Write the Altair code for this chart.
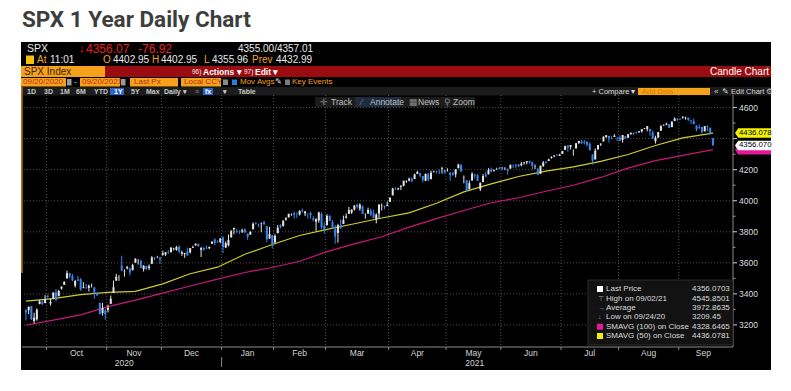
import altair as alt
import pandas as pd

# ---------------- data ----------------
HOLIDAYS = ["2020-11-26", "2020-12-25", "2021-01-01", "2021-01-18", "2021-02-15",
            "2021-04-02", "2021-05-31", "2021-07-05", "2021-09-06"]

OPEN = [3295, 3295, 3320, 3226, 3236, 3334, 3350, 3341,
        3385, 3338, 3368, 3409, 3385, 3434, 3459, 3501, 3534, 3515, 3453, 3494, 3494, 3439, 3440, 3438, 3465, 3442, 3404, 3343, 3277, 3293,
        3296, 3336, 3406, 3485, 3508, 3584, 3544, 3564, 3563, 3552, 3601, 3610, 3612, 3559, 3579, 3567, 3594, 3635, 3638, 3635,
        3653, 3653, 3669, 3670, 3689, 3683, 3705, 3659, 3656, 3675, 3667, 3696, 3713, 3722, 3684, 3698, 3693, 3694, 3723, 3751, 3736, 3734,
        3764, 3699, 3713, 3764, 3816, 3803, 3802, 3802, 3815, 3788, 3782, 3816, 3858, 3845, 3852, 3863, 3837, 3756, 3779,
        3732, 3791, 3840, 3837, 3878, 3893, 3911, 3920, 3917, 3911, 3939, 3918, 3916, 3921, 3886, 3865, 3873, 3915, 3839,
        3842, 3903, 3863, 3818, 3793, 3844, 3851, 3891, 3916, 3924, 3943, 3974, 3949, 3963, 3913, 3917, 3937, 3920, 3879, 3917, 3969, 3964, 3967,
        3993, 4035, 4075, 4074, 4090, 4096, 4125, 4130, 4141, 4140, 4174, 4177, 4159, 4128, 4171, 4139, 4185, 4188, 4186, 4206, 4199,
        4192, 4180, 4178, 4170, 4210, 4229, 4150, 4131, 4074, 4130, 4170, 4165, 4074, 4121, 4168, 4170, 4202, 4191, 4201, 4210,
        4217, 4207, 4206, 4207, 4229, 4234, 4232, 4229, 4242, 4248, 4256, 4249, 4220, 4205, 4173, 4224, 4249, 4256, 4275, 4285, 4293, 4291,
        4301, 4327, 4356, 4347, 4321, 4337, 4372, 4382, 4381, 4380, 4368, 4297, 4266, 4331, 4362, 4382, 4410, 4417, 4403, 4411, 4396,
        4407, 4392, 4415, 4406, 4430, 4437, 4442, 4442, 4447, 4465, 4462, 4462, 4440, 4383, 4407, 4451, 4484, 4490, 4493, 4474, 4513, 4529,
        4528, 4534, 4532, 4535, 4518, 4514, 4484, 4474, 4475, 4447, 4478, 4470, 4403]

HIGH = [3301, 3320, 3323, 3279, 3307, 3361, 3358, 3393,
        3397, 3370, 3409, 3432, 3426, 3447, 3482, 3550, 3534, 3528, 3489, 3515, 3502, 3476, 3465, 3460, 3466, 3443, 3410, 3343, 3342, 3305,
        3331, 3389, 3486, 3529, 3521, 3646, 3558, 3581, 3569, 3593, 3629, 3624, 3620, 3585, 3582, 3590, 3643, 3636, 3645, 3635,
        3679, 3670, 3683, 3699, 3697, 3709, 3712, 3678, 3665, 3698, 3695, 3711, 3726, 3725, 3702, 3698, 3712, 3703, 3740, 3757, 3744, 3761,
        3770, 3738, 3783, 3811, 3826, 3818, 3811, 3820, 3823, 3788, 3804, 3860, 3861, 3853, 3860, 3871, 3837, 3831, 3779,
        3784, 3843, 3848, 3873, 3895, 3916, 3918, 3931, 3925, 3938, 3950, 3933, 3916, 3931, 3902, 3888, 3929, 3925, 3862,
        3914, 3906, 3875, 3844, 3851, 3881, 3904, 3918, 3960, 3944, 3971, 3981, 3984, 3970, 3919, 3956, 3949, 3942, 3919, 3978, 3982, 3969, 3994,
        4021, 4084, 4087, 4083, 4099, 4129, 4131, 4149, 4151, 4174, 4192, 4180, 4160, 4175, 4180, 4194, 4194, 4193, 4202, 4219, 4199,
        4209, 4187, 4187, 4202, 4238, 4237, 4163, 4134, 4131, 4184, 4171, 4170, 4117, 4173, 4188, 4210, 4214, 4202, 4213, 4218,
        4219, 4216, 4206, 4234, 4233, 4236, 4237, 4249, 4249, 4255, 4257, 4251, 4233, 4212, 4226, 4256, 4256, 4271, 4286, 4293, 4301, 4302,
        4321, 4355, 4357, 4358, 4330, 4372, 4386, 4393, 4393, 4383, 4376, 4299, 4337, 4359, 4370, 4415, 4422, 4418, 4416, 4429, 4412,
        4422, 4423, 4416, 4429, 4440, 4440, 4446, 4449, 4461, 4468, 4480, 4462, 4454, 4419, 4444, 4489, 4492, 4502, 4494, 4513, 4537, 4532,
        4531, 4546, 4541, 4535, 4521, 4530, 4486, 4492, 4476, 4481, 4486, 4471, 4403]

LOW = [3229, 3270, 3232, 3209, 3228, 3334, 3327, 3340,
       3361, 3324, 3367, 3354, 3385, 3428, 3459, 3496, 3501, 3480, 3441, 3483, 3420, 3436, 3433, 3415, 3441, 3369, 3387, 3268, 3260, 3233,
       3280, 3336, 3406, 3485, 3484, 3547, 3511, 3558, 3518, 3552, 3601, 3589, 3567, 3544, 3556, 3553, 3594, 3618, 3630, 3594,
       3645, 3645, 3657, 3665, 3679, 3678, 3660, 3645, 3633, 3646, 3660, 3696, 3710, 3702, 3637, 3676, 3690, 3689, 3723, 3715, 3730, 3725,
       3663, 3695, 3706, 3764, 3784, 3792, 3786, 3792, 3792, 3749, 3780, 3816, 3846, 3830, 3797, 3842, 3732, 3756, 3694,
       3726, 3791, 3822, 3834, 3871, 3892, 3903, 3885, 3890, 3905, 3923, 3901, 3885, 3884, 3867, 3805, 3859, 3817, 3789,
       3842, 3868, 3818, 3723, 3730, 3820, 3851, 3885, 3916, 3915, 3937, 3950, 3935, 3914, 3885, 3917, 3901, 3889, 3854, 3886, 3937, 3944, 3966,
       3993, 4034, 4069, 4068, 4069, 4093, 4114, 4124, 4120, 4140, 4171, 4151, 4118, 4126, 4124, 4138, 4181, 4176, 4172, 4175, 4175,
       4188, 4128, 4160, 4150, 4208, 4188, 4112, 4057, 4074, 4130, 4143, 4126, 4062, 4119, 4151, 4170, 4182, 4188, 4197, 4203,
       4197, 4198, 4168, 4207, 4211, 4208, 4219, 4221, 4233, 4234, 4238, 4202, 4204, 4165, 4173, 4218, 4241, 4256, 4271, 4280, 4287, 4287,
       4301, 4327, 4315, 4330, 4290, 4337, 4365, 4368, 4362, 4348, 4322, 4233, 4266, 4329, 4352, 4382, 4406, 4375, 4396, 4411, 4385,
       4384, 4373, 4398, 4405, 4424, 4422, 4431, 4436, 4439, 4461, 4447, 4418, 4397, 4368, 4406, 4451, 4482, 4486, 4469, 4474, 4513, 4515,
       4522, 4527, 4522, 4513, 4494, 4493, 4447, 4462, 4430, 4447, 4447, 4427, 4356]

CLOSE = [3281, 3316, 3237, 3247, 3298, 3352, 3335, 3363,
         3381, 3348, 3409, 3361, 3419, 3447, 3477, 3534, 3512, 3489, 3483, 3484, 3427, 3443, 3436, 3453, 3465, 3401, 3391, 3271, 3310, 3270,
         3310, 3369, 3443, 3510, 3509, 3550, 3546, 3573, 3537, 3585, 3627, 3610, 3568, 3582, 3558, 3578, 3635, 3630, 3638, 3622,
         3662, 3669, 3667, 3699, 3692, 3702, 3673, 3668, 3663, 3647, 3695, 3701, 3722, 3709, 3695, 3687, 3690, 3703, 3735, 3727, 3732, 3756,
         3701, 3727, 3748, 3804, 3825, 3800, 3801, 3810, 3796, 3768, 3799, 3852, 3853, 3841, 3855, 3850, 3751, 3787, 3714,
         3774, 3826, 3830, 3872, 3887, 3916, 3911, 3910, 3916, 3935, 3933, 3931, 3914, 3907, 3877, 3881, 3925, 3829, 3811,
         3902, 3870, 3820, 3768, 3842, 3821, 3875, 3899, 3939, 3943, 3969, 3963, 3974, 3915, 3913, 3941, 3911, 3889, 3910, 3975, 3971, 3959, 3973,
         4020, 4078, 4074, 4080, 4097, 4129, 4128, 4142, 4125, 4170, 4185, 4163, 4135, 4173, 4135, 4180, 4188, 4187, 4183, 4211, 4181,
         4193, 4165, 4168, 4202, 4233, 4188, 4152, 4063, 4113, 4174, 4163, 4128, 4116, 4159, 4156, 4197, 4188, 4196, 4201, 4204,
         4202, 4208, 4193, 4230, 4227, 4227, 4220, 4239, 4247, 4255, 4247, 4224, 4222, 4166, 4225, 4246, 4242, 4266, 4281, 4291, 4292, 4298,
         4320, 4352, 4344, 4358, 4321, 4370, 4385, 4369, 4374, 4360, 4327, 4258, 4323, 4359, 4367, 4412, 4422, 4401, 4401, 4419, 4395,
         4387, 4423, 4403, 4429, 4437, 4432, 4437, 4448, 4461, 4468, 4480, 4448, 4400, 4406, 4442, 4480, 4486, 4496, 4470, 4509, 4529, 4523,
         4524, 4537, 4535, 4520, 4514, 4493, 4459, 4469, 4443, 4481, 4474, 4433, 4356]

MA_IDX = [0, 10, 20, 30, 40, 50, 60, 70, 80, 90, 100, 110, 120, 130, 140, 150, 160, 170, 180, 190, 200, 210, 220, 230, 240, 251]
MA50 = [3353, 3369, 3395, 3410, 3416, 3465, 3530, 3572, 3655, 3718, 3776, 3816, 3852, 3889, 3922, 3984, 4057, 4109, 4156, 4191, 4218, 4254, 4298, 4356, 4405, 4436]
MA100 = [3198, 3231, 3265, 3318, 3360, 3405, 3451, 3495, 3538, 3570, 3610, 3672, 3722, 3768, 3830, 3885, 3937, 3987, 4019, 4061, 4100, 4150, 4210, 4258, 4292, 4329]

Y_TICKS = [3200, 3400, 3600, 3800, 4000, 4200, 4400, 4600]
Y_LABELS = [3200, 3400, 3600, 3800, 4000, 4200, 4600]   # 4400 sits under the price tags
Y_MINOR = [3300, 3500, 3700, 3900, 4100, 4300, 4500]

TAG_VALUES = [4328.6465, 4356.0703, 4436.0781]
TAG_LABELS = ["", "4356.070", "4436.078"]

LEG_LABELS = ["Last Price", "High on 09/02/21", "Average", "Low on 09/24/20",
              "SMAVG (100)  on Close", "SMAVG (50)  on Close"]
LEG_VALUES = ["4356.0703", "4545.8501", "3972.8635", "3209.45", "4328.6465", "4436.0781"]

# ---------------- styling ----------------
UI = "Liberation Sans, Arial, sans-serif"
UP, DOWN = "#e4e4e4", "#3a86ec"
YEL_LINE, MAG_LINE = "#cdcd2a", "#c8187a"
YEL, MAG = "#f2f200", "#e6189a"
ORANGE = "#f5a11c"
AXC = "#8a8a8a"
OX, OY = 22, 95          # page position of plot origin
W, H = 711, 252
XDOM = [0.4, 256.5]
xs = alt.Scale(domain=XDOM, nice=False, zero=False)
ys = alt.Scale(domain=[3058, 4681], nice=False, zero=False)

dates = pd.bdate_range("2020-09-21", "2021-09-20")
dates = dates[~dates.isin(pd.to_datetime(HOLIDAYS))]

df = pd.DataFrame({"i": range(len(CLOSE)), "o": OPEN, "h": HIGH, "l": LOW, "c": CLOSE})
df["dir"] = ["up" if c >= o else "down" for o, c in zip(df.o, df.c)]

bounds = [k - 0.5 for k in range(1, len(dates)) if dates[k].month != dates[k - 1].month]
mnames = [dates[k].strftime("%b") for k in range(1, len(dates)) if dates[k].month != dates[k - 1].month]
edges = bounds + [XDOM[1]]
months = pd.DataFrame({"m": mnames, "ctr": [(edges[j] + edges[j + 1]) / 2 for j in range(len(mnames))]})
jan = bounds[mnames.index("Jan")]
years = pd.DataFrame({"yr": ["2020", "2021"], "ctr": [(XDOM[0] + jan) / 2, (jan + XDOM[1]) / 2]})

ma = pd.DataFrame({"i": MA_IDX, "m50": MA50, "m100": MA100})
one = pd.DataFrame({"k": [0]})

# ---------------- decoration (page coordinates) ----------------
rects, texts = [], []


def R(x1, y1, x2, y2, fill):
    rects.append({"x": x1 - OX, "x2": x2 - OX, "y": y1 - OY, "y2": y2 - OY, "f": fill})


def T(x, y, s, color, size, weight="normal", align="left"):
    texts.append({"x": x - OX, "y": y - OY, "t": s, "c": color, "s": size, "w": weight, "a": align})


R(21, 42, 771, 370, "#000000")
R(21, 66, 771, 77, "#9b0c10")
R(21, 66, 105, 77, ORANGE)
R(21, 78, 66, 86.5, ORANGE); R(67, 79, 71.5, 85.5, "#9a9a9a")
R(80, 78, 120, 86.5, ORANGE); R(121, 79, 125.5, 85.5, "#9a9a9a")
R(130, 78, 178, 86.5, ORANGE)
R(181, 78, 221, 86.5, ORANGE)
R(223, 79.5, 228, 85, "#8a8a8a")
R(232, 79.5, 237, 85, "#2d7be0")
R(285, 79.5, 290, 85, "#7a7a7a")
R(21, 87, 771, 95.5, "#1c1c1c")
R(110, 88, 124, 95, "#2a64c8")
R(203, 88, 213, 95, "#2a64c8")
R(638, 88, 710, 95, ORANGE)
R(315, 97, 475, 107, "#1b1b1b")
R(355, 97, 401, 107, "#1d2c40")
R(21, 87, 22.8, 273, "#a8651e")
R(26, 55.5, 34, 64, "#f4c20d")

T(27, 48.5, "SPX", "#e8e8e8", 10.5)
T(79, 48.5, "↓", "#e8201c", 11)
T(86, 48.5, "4356.07", "#e8201c", 12)
T(138, 48.5, "-76.92", "#e8201c", 12)
T(238, 48.5, "4355.00/4357.01", "#e8e8e8", 10)
for x, s, col in [(37, "At", ORANGE), (50, "11:01", "#e8e8e8"), (103, "O", ORANGE), (113, "4402.95", "#e8e8e8"),
                  (152, "H", ORANGE), (161, "4402.95", "#e8e8e8"), (204, "L", ORANGE), (212, "4355.96", "#e8e8e8"),
                  (252, "Prev", ORANGE), (276, "4432.99", "#e8e8e8")]:
    T(x, 60, s, col, 10)
T(24, 71.5, "SPX Index", "#3a2300", 10)
T(192, 71.5, "96)", "#f0f0f0", 6.5)
T(203, 71.5, "Actions ▾", "#ffffff", 8.5, "bold")
T(244, 71.5, "97)", "#f0f0f0", 6.5)
T(255, 71.5, "Edit ▾", "#ffffff", 8.5, "bold")
T(769, 71.5, "Candle Chart", "#ffffff", 10, align="right")
for x, s, col in [(23, "09/20/2020", "#b8301a"), (74, "-", "#e0e0e0"), (82, "09/20/2021", "#b8301a"),
                  (134, "Last Px", "#b8301a"), (184, "Local CCY", "#b8301a")]:
    T(x, 82.2, s, col, 8)
T(240, 82.2, "Mov Avgs", ORANGE, 8)
T(275, 82.2, "✎", "#e0e0e0", 7.5)
T(292, 82.2, "Key Events", ORANGE, 8)
for x, s in [(27, "1D"), (44, "3D"), (60, "1M"), (76, "6M"), (94, "YTD"), (131, "5Y"), (146, "Max"),
             (164, "Daily ▾"), (223, "▾"), (238, "Table")]:
    T(x, 91.5, s, "#c8c8c8", 7, "bold")
T(114, 91.5, "1Y", "#ffffff", 7, "bold")
T(195, 91.5, "≡", "#8a8a8a", 7, "bold")
T(205, 91.5, "fx", "#ffffff", 7, "bold")
T(592, 91.5, "+ Compare ▾", "#d8d8d8", 7.5)
T(642, 91.5, "Add Data", "#e07b00", 7.5)
T(714, 91.5, "«", "#c8c8c8", 8)
T(722, 91.5, "✎ Edit Chart", "#d8d8d8", 7.5)
T(766, 91.5, "⚙", "#c8c8c8", 7.5)
for x, s, col in [(320, "✛", "#888888"), (331, "Track", "#c0c0c0"), (361, "⁄", "#888888"), (370, "Annotate", "#c0c0c0"),
                  (409, "▦", "#888888"), (418, "News", "#c0c0c0"), (444, "⚲", "#888888"), (453, "Zoom", "#c0c0c0")]:
    T(x, 102, s, col, 8.5)

# legend box
LEG_Y = [289, 298.5, 308, 317.3, 326.7, 336]
for yy, lab, val in zip(LEG_Y, LEG_LABELS, LEG_VALUES):
    T(606, yy, lab, "#dcdcdc", 8)
    T(692, yy, val, "#dcdcdc", 8)
for yy, s in [(LEG_Y[1], "⊤"), (LEG_Y[2], "→"), (LEG_Y[3], "↓")]:
    T(598, yy, s, "#9a9a9a", 7)
sq = [(LEG_Y[0], "#ffffff"), (LEG_Y[4], MAG), (LEG_Y[5], YEL)]

rdf = pd.DataFrame(rects)
tdf = pd.DataFrame(texts)

layers = []
layers.append(alt.Chart(rdf).mark_rect().encode(
    x=alt.X("x:Q", scale=None, axis=None), x2="x2:Q",
    y=alt.Y("y:Q", scale=None, axis=None), y2="y2:Q",
    color=alt.Color("f:N", scale=None)))

layers.append(alt.Chart(one).mark_text(
    font="Roboto, sans-serif", fontSize=22.5,
    fontWeight="bold", align="left", baseline="alphabetic", color="#3d3d3d").encode(
    x=alt.value(0), y=alt.value(27 - OY), text=alt.value("SPX 1 Year Daily Chart")))

# grid lines
layers.append(alt.Chart(pd.DataFrame({"v": Y_TICKS})).mark_rule(
    color="#505050", strokeDash=[1, 2], strokeWidth=1).encode(y=alt.Y("v:Q", scale=ys, axis=None)))
layers.append(alt.Chart(pd.DataFrame({"b": bounds})).mark_rule(
    color="#505050", strokeDash=[1, 2], strokeWidth=1).encode(x=alt.X("b:Q", scale=xs, axis=None)))

# moving averages
layers.append(alt.Chart(ma).mark_line(color=MAG_LINE, strokeWidth=1.2, clip=True).encode(
    x=alt.X("i:Q", scale=xs, axis=None), y=alt.Y("m100:Q", scale=ys, axis=None)))
layers.append(alt.Chart(ma).mark_line(color=YEL_LINE, strokeWidth=1.2, clip=True).encode(
    x=alt.X("i:Q", scale=xs, axis=None), y=alt.Y("m50:Q", scale=ys, axis=None)))

# candles
ccol = alt.Color("dir:N", scale=alt.Scale(domain=["up", "down"], range=[UP, DOWN]), legend=None)
layers.append(alt.Chart(df).mark_rule(strokeWidth=1, clip=True).encode(
    x=alt.X("i:Q", scale=xs, axis=None), y=alt.Y("l:Q", scale=ys, axis=None), y2="h:Q", color=ccol))
layers.append(alt.Chart(df).mark_bar(size=2, clip=True).encode(
    x=alt.X("i:Q", scale=xs, axis=None), y=alt.Y("o:Q", scale=ys, axis=None), y2="c:Q", color=ccol))

# price axis (right): domain, ticks, minor ticks, labels
layers.append(alt.Chart(one).mark_rule(color=AXC).encode(
    x=alt.value(W), y=alt.value(0), y2=alt.value(H)))
layers.append(alt.Chart(pd.DataFrame({"v": Y_TICKS})).mark_rule(color="#d0d0d0").encode(
    y=alt.Y("v:Q", scale=ys, axis=None), x=alt.value(W), x2=alt.value(W + 4)))
layers.append(alt.Chart(pd.DataFrame({"v": Y_MINOR})).mark_rule(color="#9a9a9a").encode(
    y=alt.Y("v:Q", scale=ys, axis=None), x=alt.value(W), x2=alt.value(W + 2.5)))
layers.append(alt.Chart(pd.DataFrame({"v": Y_LABELS})).mark_text(
    font=UI, fontSize=8.5, color="#dedede", align="left", baseline="middle").encode(
    y=alt.Y("v:Q", scale=ys, axis=None), x=alt.value(W + 6), text="v:N"))

# time axis (bottom): domain, ticks, month / year labels
layers.append(alt.Chart(one).mark_rule(color=AXC).encode(
    x=alt.value(0), x2=alt.value(W), y=alt.value(H)))
layers.append(alt.Chart(pd.DataFrame({"b": bounds})).mark_rule(color=AXC).encode(
    x=alt.X("b:Q", scale=xs, axis=None), y=alt.value(H), y2=alt.value(H + 3)))
layers.append(alt.Chart(months).mark_text(font=UI, fontSize=8.5, color="#d4d4d4", baseline="middle").encode(
    x=alt.X("ctr:Q", scale=xs, axis=None), y=alt.value(353 - OY), text="m:N"))
layers.append(alt.Chart(years).mark_text(font=UI, fontSize=8.5, color="#d4d4d4", baseline="middle").encode(
    x=alt.X("ctr:Q", scale=xs, axis=None), y=alt.value(363 - OY), text="yr:N"))
layers.append(alt.Chart(pd.DataFrame({"b": [jan]})).mark_rule(color=AXC).encode(
    x=alt.X("b:Q", scale=xs, axis=None), y=alt.value(357 - OY), y2=alt.value(367 - OY)))

# legend box
layers.append(alt.Chart(one).mark_rect(fill="#121212", stroke="#3a3a3a", strokeWidth=0.7).encode(
    x=alt.value(588 - OX), x2=alt.value(733 - OX), y=alt.value(280 - OY), y2=alt.value(345 - OY)))
sqdf = pd.DataFrame({"y": [s[0] - OY for s in sq], "f": [s[1] for s in sq]})
layers.append(alt.Chart(sqdf).mark_square(size=36, opacity=1).encode(
    x=alt.value(600 - OX), y=alt.Y("y:Q", scale=None, axis=None), color=alt.Color("f:N", scale=None)))

# price tags on the axis
TAG = "M-1,0 L-0.82,-0.26 L1,-0.26 L1,0.26 L-0.82,0.26 Z"
tags = pd.DataFrame({"v": TAG_VALUES, "lab": TAG_LABELS, "f": [MAG, "#ffffff", YEL]})
layers.append(alt.Chart(tags).mark_point(shape=TAG, size=1296, filled=True, opacity=1, strokeWidth=0).encode(
    x=alt.value(731), y=alt.Y("v:Q", scale=ys, axis=None), color=alt.Color("f:N", scale=None)))
layers.append(alt.Chart(tags).mark_text(font=UI, fontSize=7.8, align="left", baseline="middle", color="#000000").encode(
    x=alt.value(717), y=alt.Y("v:Q", scale=ys, axis=None), text="lab:N"))

# texts
for (w, a), g in tdf.groupby(["w", "a"]):
    layers.append(alt.Chart(g).mark_text(font=UI, fontWeight=w, align=a, baseline="middle").encode(
        x=alt.X("x:Q", scale=None, axis=None), y=alt.Y("y:Q", scale=None, axis=None),
        text="t:N", color=alt.Color("c:N", scale=None), size=alt.Size("s:Q", scale=None)))

chart = alt.layer(*layers).properties(
    width=W, height=H,
    autosize=alt.AutoSizeParams(type="none"),
    padding={"left": 14, "top": 87, "right": 50, "bottom": 36},
    background="#ffffff",
).configure_view(stroke=None)

chart.save("out.html", embed_options={"renderer": "svg", "actions": False})
